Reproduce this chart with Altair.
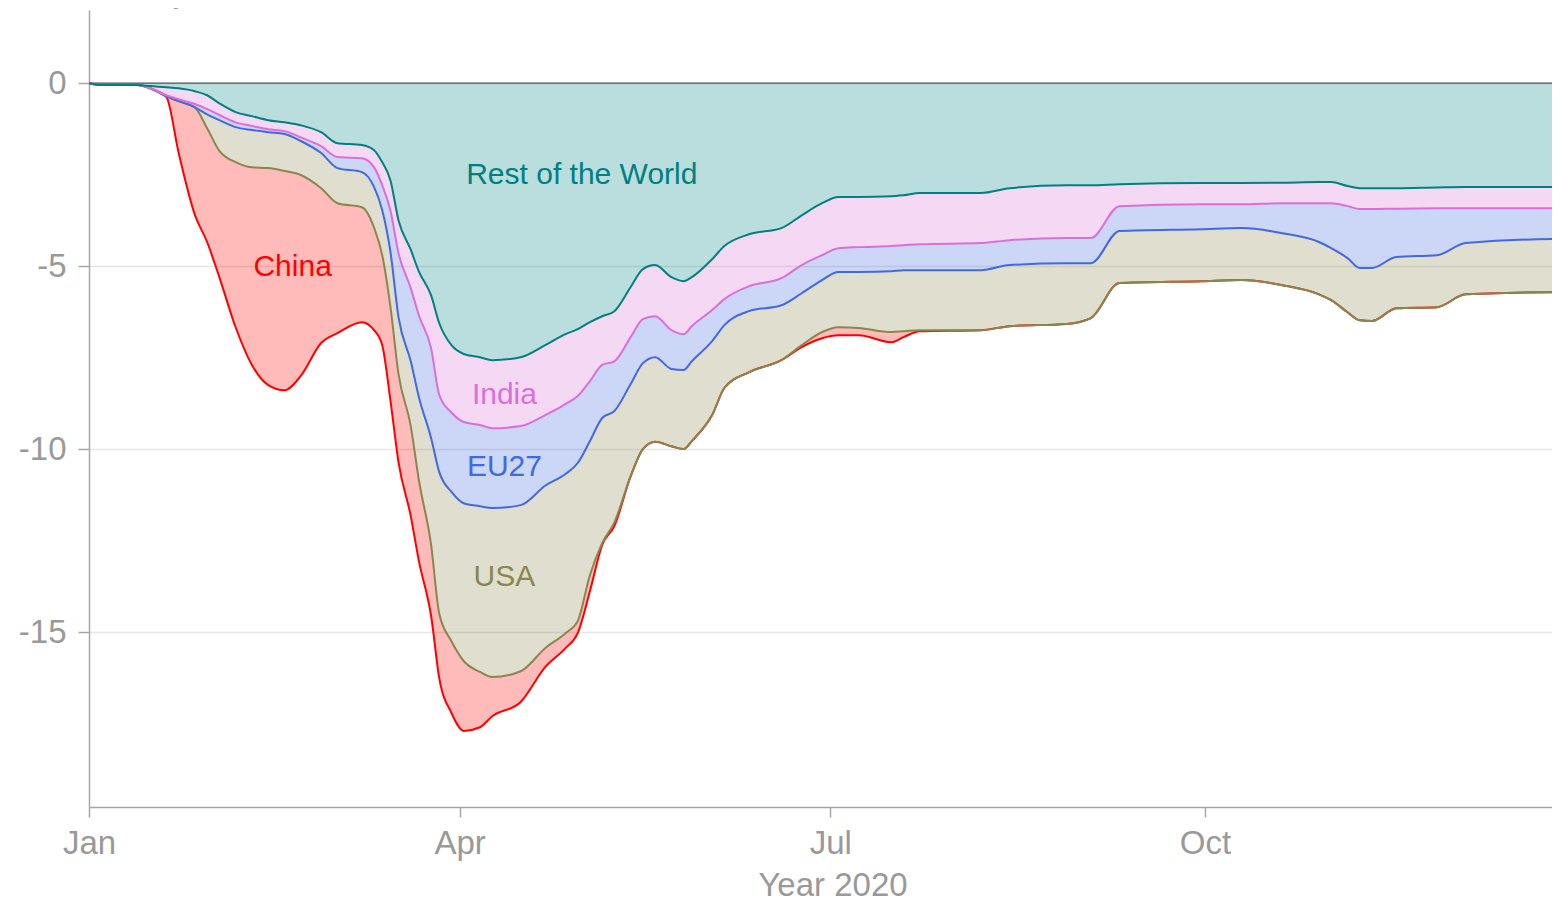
import altair as alt
import pandas as pd

FONT = "Liberation Sans"

dates = [
    "2020-01-01", "2020-01-04", "2020-01-13", "2020-01-16", "2020-01-20", "2020-01-23", "2020-01-27", "2020-01-30",
    "2020-02-02", "2020-02-06", "2020-02-10", "2020-02-14", "2020-02-18", "2020-02-22", "2020-02-27",
    "2020-03-02", "2020-03-08", "2020-03-11", "2020-03-13", "2020-03-15", "2020-03-17", "2020-03-20", "2020-03-22",
    "2020-03-25", "2020-03-27", "2020-03-30",
    "2020-04-02", "2020-04-06", "2020-04-09", "2020-04-16", "2020-04-22", "2020-04-27", "2020-04-30",
    "2020-05-03", "2020-05-06", "2020-05-09", "2020-05-13", "2020-05-16", "2020-05-19", "2020-05-23", "2020-05-26",
    "2020-05-28",
    "2020-06-02", "2020-06-05", "2020-06-11", "2020-06-19", "2020-06-24", "2020-06-29",
    "2020-07-03", "2020-07-08", "2020-07-16", "2020-07-19", "2020-07-23",
    "2020-08-07", "2020-08-14", "2020-08-28",
    "2020-09-03", "2020-09-10", "2020-09-30",
    "2020-10-10", "2020-10-20", "2020-10-29",
    "2020-11-01", "2020-11-05", "2020-11-08", "2020-11-11", "2020-11-17", "2020-11-27",
    "2020-12-04", "2020-12-27", "2020-12-31",
]

# cumulative boundary (lower edge) of each stacked band, MtCO2/day
row_line = [
    0, -0.05, -0.05, -0.08, -0.11, -0.14, -0.22, -0.33,
    -0.55, -0.79, -0.9, -1.01, -1.07, -1.15, -1.34,
    -1.64, -1.69, -1.83, -2.16, -2.65, -3.75, -4.55, -5.15, -5.8, -6.56, -7.16,
    -7.4, -7.49, -7.57, -7.49, -7.16, -6.86, -6.72,
    -6.53, -6.37, -6.23, -5.57, -5.08, -4.97, -5.3, -5.41, -5.3,
    -4.81, -4.45, -4.13, -3.96, -3.61, -3.28,
    -3.11, -3.11, -3.09, -3.06, -3.0,
    -3.0, -2.87, -2.79,
    -2.79, -2.76, -2.73,
    -2.73, -2.72, -2.7,
    -2.7, -2.81, -2.87, -2.87, -2.87, -2.85,
    -2.84, -2.84, -2.84,
]
india_line = [
    0, -0.05, -0.05, -0.14, -0.33, -0.44, -0.57, -0.71,
    -0.87, -1.07, -1.17, -1.26, -1.31, -1.48, -1.72,
    -2.02, -2.05, -2.3, -2.79, -3.47, -4.65, -5.6, -6.35, -7.25, -8.52, -9.0,
    -9.26, -9.34, -9.43, -9.37, -9.07, -8.77, -8.55,
    -8.14, -7.7, -7.6, -6.94, -6.45, -6.37, -6.75, -6.86, -6.64,
    -6.2, -5.9, -5.55, -5.33, -4.97, -4.7,
    -4.51, -4.48, -4.45, -4.43, -4.4,
    -4.37, -4.29, -4.23,
    -4.23, -3.36, -3.31,
    -3.31, -3.28, -3.28,
    -3.28, -3.36, -3.44, -3.44, -3.43, -3.42,
    -3.42, -3.42, -3.42,
]
eu_line = [
    0, -0.05, -0.05, -0.14, -0.36, -0.49, -0.66, -0.85,
    -1.01, -1.2, -1.28, -1.34, -1.39, -1.58, -1.91,
    -2.32, -2.43, -2.84, -3.47, -4.6, -6.4, -7.6, -8.58, -9.7, -10.63, -11.17,
    -11.48, -11.56, -11.61, -11.53, -11.0, -10.68, -10.38,
    -9.78, -9.15, -8.96, -8.22, -7.65, -7.49, -7.81, -7.84, -7.6,
    -7.05, -6.61, -6.23, -6.07, -5.74, -5.38,
    -5.16, -5.16, -5.14, -5.11, -5.11,
    -5.11, -4.97, -4.92,
    -4.92, -4.04, -3.99,
    -3.96, -4.1, -4.34,
    -4.51, -4.78, -5.05, -5.05, -4.75, -4.7,
    -4.37, -4.26, -4.26,
]
usa_line = [
    0, -0.05, -0.05, -0.14, -0.36, -0.49, -0.66, -1.23,
    -1.85, -2.16, -2.3, -2.32, -2.4, -2.51, -2.87,
    -3.28, -3.39, -3.95, -4.7, -6.1, -7.95, -9.37, -10.85, -12.62, -14.5, -15.25,
    -15.79, -16.09, -16.23, -16.07, -15.44, -15.03, -14.7,
    -13.44, -12.57, -12.0, -10.74, -10.0, -9.8, -9.92, -10.0, -9.78,
    -9.07, -8.33, -7.9, -7.57, -7.16, -6.8,
    -6.67, -6.69, -6.8, -6.78, -6.75,
    -6.75, -6.64, -6.58,
    -6.42, -5.46, -5.41,
    -5.38, -5.52, -5.77,
    -5.93, -6.26, -6.48, -6.5, -6.15, -6.12,
    -5.77, -5.71, -5.71,
]
china_line = [
    0, -0.05, -0.05, -0.14, -0.38, -1.9, -3.6, -4.34,
    -5.3, -6.67, -7.7, -8.25, -8.39, -8.0, -7.1,
    -6.83, -6.53, -6.75, -7.16, -8.66, -10.36, -11.83, -13.06, -14.56, -16.26, -17.21,
    -17.7, -17.6, -17.3, -16.91, -15.96, -15.44, -15.03,
    -13.88, -12.62, -12.1, -10.74, -10.0, -9.8, -9.92, -10.0, -9.78,
    -9.07, -8.33, -7.9, -7.57, -7.21, -6.97,
    -6.89, -6.89, -7.08, -6.94, -6.78,
    -6.75, -6.64, -6.58,
    -6.42, -5.46, -5.41,
    -5.38, -5.52, -5.77,
    -5.93, -6.26, -6.48, -6.5, -6.15, -6.12,
    -5.77, -5.71, -5.71,
]
zero_line = [0] * len(dates)

series = ["Rest of the World", "India", "EU27", "USA", "China"]
colors = ["#008080", "#da70d6", "#4169e1", "#8b864e", "#ff0000"]
lines = [row_line, india_line, eu_line, usa_line, china_line]
uppers = [zero_line, row_line, india_line, eu_line, usa_line]

# label anchors (data coordinates)
label_text = ["Rest of the World", "India", "EU27", "USA", "China"]
label_date = ["2020-05-01", "2020-04-12", "2020-04-12", "2020-04-12", "2020-02-20"]
label_value = [-2.51, -8.52, -10.49, -13.5, -5.03]

rows = []
for name, lo, up in zip(series, lines, uppers):
    for d, a, b in zip(dates, lo, up):
        rows.append({"date": d, "series": name, "lower": a, "upper": b})
df = pd.DataFrame(rows)

labels = pd.DataFrame({"date": label_date, "lower": label_value, "series": label_text, "label": label_text})
zero_df = pd.DataFrame({"lower": [0]})

x_scale = alt.Scale(
    type="utc",
    domain=[alt.DateTime(year=2020, month=1, date=1, utc=True),
            alt.DateTime(year=2020, month=12, date=25, hours=5, utc=True)],
)
y_scale = alt.Scale(domain=[-19.78, 2.0], nice=False, zero=False)
color_scale = alt.Scale(domain=series, range=colors)

GREY = "#999999"
AXIS_GREY = "#a6a6a6"

x_axis = alt.Axis(
    values=[alt.DateTime(year=2020, month=m, date=1, utc=True) for m in (1, 4, 7, 10)],
    labelExpr="utcFormat(datum.value, '%b')",
    title="Year 2020", grid=False,
    tickSize=10, tickWidth=1.5, tickColor=AXIS_GREY,
    domainColor=AXIS_GREY, domainWidth=1.5,
    labelFont=FONT, labelFontSize=33, labelColor=GREY, labelPadding=10, labelFlush=False,
    titleFont=FONT, titleFontSize=33, titleColor=GREY, titleFontWeight="normal",
    titleX=743.5, titleY=88, titleBaseline="alphabetic", titleAlign="center",
)
y_axis = alt.Axis(
    values=[-15, -10, -5, 0],
    labelExpr="'' + datum.value",
    grid=True, gridColor="#e6e6e6", gridWidth=1.5,
    tickSize=11, tickWidth=1.5, tickColor=AXIS_GREY,
    domainColor=AXIS_GREY, domainWidth=1.5,
    labelFont=FONT, labelFontSize=33, labelColor=GREY, labelPadding=12,
    title="MtCO₂ / day", titleAngle=0, titleAlign="left", titleBaseline="alphabetic",
    titleX=-80, titleY=-9, titleFont=FONT, titleFontSize=33, titleColor=GREY,
    titleFontWeight="normal",
)

X = alt.X("date:T", scale=x_scale, axis=x_axis)
Y = alt.Y("lower:Q", scale=y_scale, axis=y_axis, stack=None)
C = alt.Color("series:N", scale=color_scale, legend=None)

area = alt.Chart(df).mark_area(interpolate="monotone", fillOpacity=0.27, clip=True).encode(
    x=X, y=Y, y2="upper:Q", color=C,
)

zero_rule = alt.Chart(zero_df).mark_rule(color="#555555", strokeWidth=1.3).encode(y=Y)

line_layers = []
for name in ["China", "USA", "EU27", "India", "Rest of the World"]:
    line_layers.append(
        alt.Chart(df).transform_filter(alt.datum.series == name)
        .mark_line(interpolate="monotone", strokeWidth=2, clip=True)
        .encode(x=X, y=Y, color=C)
    )

text = alt.Chart(labels).mark_text(font=FONT, fontSize=30, align="center", baseline="middle").encode(
    x=X, y=Y, text="label:N", color=C,
)

chart = alt.layer(area, zero_rule, *line_layers, text).properties(
    width=1463,
    height=797,
    autosize=alt.AutoSizeParams(type="none"),
    padding={"left": 81, "top": 2, "right": 0, "bottom": 100},
).configure(font=FONT).configure_view(stroke=None)

chart.save("out.html", embed_options={"renderer": "svg", "actions": False})
